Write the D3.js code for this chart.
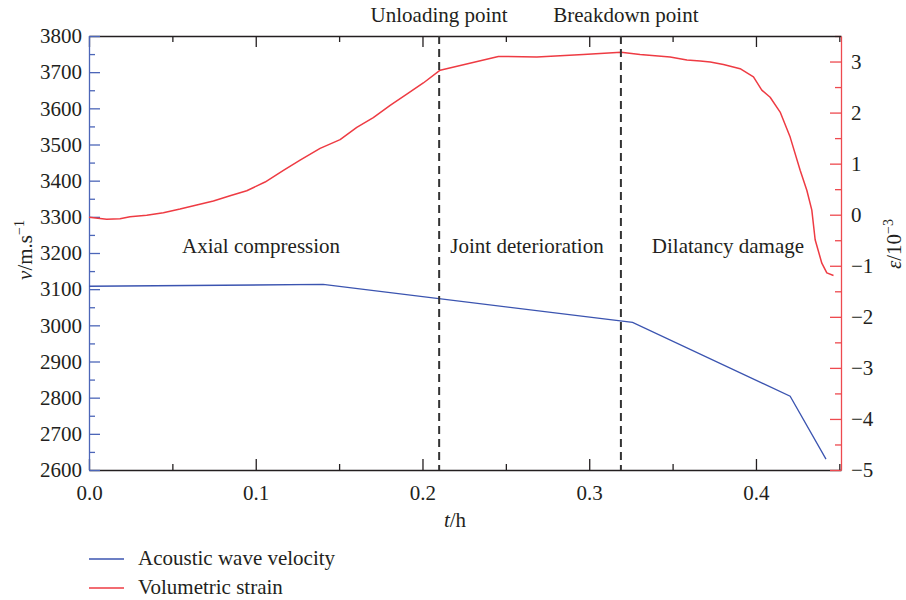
<!DOCTYPE html>
<html>
<head>
<meta charset="utf-8">
<script src="https://cdn.jsdelivr.net/npm/d3@7"></script>
<style>
  body { margin: 0; background: #fff; }
  text { font-family: "Liberation Serif", "DejaVu Serif", serif; fill: #231f20; }
</style>
</head>
<body>
<svg id="chart" width="906" height="600"></svg>
<script>
// Acoustic wave velocity (m/s) against time (h)
const velocityTime = [0, 0.1404, 0.326, 0.4205, 0.442];
const velocity = [3108, 3113, 3008, 2804, 2630];

// Volumetric strain (10^-3) against time (h)
const strainTime = [0, 0.0106, 0.0186, 0.0246, 0.0346, 0.0446, 0.0546, 0.0646, 0.0746, 0.0846,
  0.0946, 0.1056, 0.1166, 0.1266, 0.1386, 0.1506, 0.1606, 0.1705, 0.1806, 0.1906, 0.2005, 0.2106,
  0.2455, 0.2686, 0.2965, 0.3191, 0.3305, 0.3485, 0.3586, 0.3666, 0.3726, 0.3805, 0.3905, 0.3985,
  0.4035, 0.4085, 0.4145, 0.4205, 0.4265, 0.4305, 0.4335, 0.4355, 0.4395, 0.4425, 0.4465];
const strain = [-0.05, -0.09, -0.08, -0.04, -0.01, 0.04, 0.11, 0.19, 0.27, 0.37,
  0.47, 0.64, 0.87, 1.07, 1.30, 1.47, 1.71, 1.90, 2.14, 2.36, 2.58, 2.83,
  3.10, 3.09, 3.14, 3.18, 3.14, 3.09, 3.03, 3.01, 2.99, 2.94, 2.86, 2.70,
  2.44, 2.30, 2.01, 1.52, 0.87, 0.48, 0.09, -0.49, -0.95, -1.14, -1.19];

// Stage boundaries and labels
const markerTimes = [0.21, 0.319];
const markerLabels = ["Unloading point", "Breakdown point"];
const stageLabels = ["Axial compression", "Joint deterioration", "Dilatancy damage"];

// Tick values
const xTicks = [0, 0.1, 0.2, 0.3, 0.4];
const velocityTicks = [2600, 2700, 2800, 2900, 3000, 3100, 3200, 3300, 3400, 3500, 3600, 3700, 3800];
const strainTicks = [-5, -4, -3, -2, -1, 0, 1, 2, 3];

const seriesNames = ["Acoustic wave velocity", "Volumetric strain"];

const BLUE = "#3b54b0";
const RED = "#ee3b43";
const AXIS_BLUE = "#4c66b8";
const AXIS_RED = "#ee4a4f";

const svg = d3.select("#chart");
const pLeft = 89, pRight = 841, pTop = 36, pBottom = 470;
const tMax = 0.451;

const x = d3.scaleLinear().domain([0, tMax]).range([pLeft, pRight]);
const yV = d3.scaleLinear().domain([2600, 3800]).range([pBottom, pTop]);
const yE = d3.scaleLinear().domain([-5, 3.5]).range([pBottom, pTop]);

const FS = 21;
const MAJ = 11, MIN = 6;

function styleAxis(g, color) {
  g.select(".domain").attr("stroke", color).attr("stroke-width", 1.3);
  g.selectAll(".tick line").attr("stroke", color).attr("stroke-width", 1.3);
  g.selectAll(".tick text").style("font-size", FS + "px").attr("fill", "#231f20");
}

// Minor ticks
const xMinor = d3.range(0.05, tMax, 0.1);
svg.append("g").attr("transform", `translate(0,${pBottom})`)
  .call(d3.axisBottom(x).tickValues(xMinor).tickSize(-MIN).tickFormat(""))
  .call(g => { g.select(".domain").remove(); g.selectAll("line").attr("stroke", "#231f20").attr("stroke-width", 1.3); });
svg.append("g").attr("transform", `translate(0,${pTop})`)
  .call(d3.axisTop(x).tickValues(xMinor).tickSize(-MIN).tickFormat(""))
  .call(g => { g.select(".domain").remove(); g.selectAll("line").attr("stroke", "#231f20").attr("stroke-width", 1.3); });
svg.append("g").attr("transform", `translate(${pLeft},0)`)
  .call(d3.axisLeft(yV).tickValues(d3.range(2650, 3800, 100)).tickSize(-MIN).tickFormat(""))
  .call(g => { g.select(".domain").remove(); g.selectAll("line").attr("stroke", AXIS_BLUE).attr("stroke-width", 1.3); });
svg.append("g").attr("transform", `translate(${pRight},0)`)
  .call(d3.axisRight(yE).tickValues(d3.range(-4.5, 3.6, 1)).tickSize(-MIN).tickFormat(""))
  .call(g => { g.select(".domain").remove(); g.selectAll("line").attr("stroke", AXIS_RED).attr("stroke-width", 1.3); });

// Top border with ticks
svg.append("g").attr("transform", `translate(0,${pTop})`)
  .call(d3.axisTop(x).tickValues(xTicks).tickSize(-MAJ).tickSizeOuter(0).tickFormat(""))
  .call(g => styleAxis(g, "#231f20"));

// Bottom axis
svg.append("g").attr("transform", `translate(0,${pBottom})`)
  .call(d3.axisBottom(x).tickValues(xTicks).tickSize(-MAJ).tickSizeOuter(0).tickPadding(15).tickFormat(d3.format(".1f")))
  .call(g => styleAxis(g, "#231f20"));

// Left velocity axis
svg.append("g").attr("transform", `translate(${pLeft},0)`)
  .call(d3.axisLeft(yV).tickValues(velocityTicks).tickSize(-MAJ).tickSizeOuter(0).tickPadding(7).tickFormat(d3.format("d")))
  .call(g => styleAxis(g, AXIS_BLUE));

// Right strain axis
svg.append("g").attr("transform", `translate(${pRight},0)`)
  .call(d3.axisRight(yE).tickValues(strainTicks).tickSize(-MAJ).tickSizeOuter(0).tickPadding(10).tickFormat(d3.format("d")))
  .call(g => styleAxis(g, AXIS_RED));

// Series lines
const velocityData = velocityTime.map((t, i) => [t, velocity[i]]);
const strainData = strainTime.map((t, i) => [t, strain[i]]);

svg.append("path").datum(strainData)
  .attr("fill", "none").attr("stroke", RED).attr("stroke-width", 1.5).attr("stroke-linejoin", "round")
  .attr("d", d3.line().x(d => x(d[0])).y(d => yE(d[1])));

svg.append("path").datum(velocityData)
  .attr("fill", "none").attr("stroke", BLUE).attr("stroke-width", 1.3)
  .attr("d", d3.line().x(d => x(d[0])).y(d => yV(d[1])));

// Stage boundary markers
svg.selectAll("line.marker").data(markerTimes).join("line")
  .attr("class", "marker")
  .attr("x1", d => x(d)).attr("x2", d => x(d))
  .attr("y1", pTop).attr("y2", pBottom)
  .attr("stroke", "#333").attr("stroke-width", 2).attr("stroke-dasharray", "8,5");

svg.selectAll("text.marker").data(markerTimes).join("text")
  .attr("class", "marker")
  .attr("x", (d, i) => x(d) + (i === 0 ? 0 : 5)).attr("y", 22)
  .attr("text-anchor", "middle").style("font-size", FS + "px")
  .text((d, i) => markerLabels[i]);

// Stage labels centred between boundaries
const bounds = [0, ...markerTimes, tMax];
svg.selectAll("text.stage").data(stageLabels).join("text")
  .attr("class", "stage")
  .attr("x", (d, i) => x((bounds[i] + bounds[i + 1]) / 2) - 3)
  .attr("y", 253)
  .attr("text-anchor", "middle").style("font-size", FS + "px")
  .text(d => d);

// Axis titles
const xt = svg.append("text").attr("x", 455).attr("y", 527).attr("text-anchor", "middle").style("font-size", FS + "px");
xt.append("tspan").style("font-style", "italic").text("t");
xt.append("tspan").text("/h");

const yl = svg.append("text").attr("transform", "translate(32,250) rotate(-90)").attr("text-anchor", "middle").style("font-size", FS + "px");
yl.append("tspan").style("font-style", "italic").text("v");
yl.append("tspan").text("/m.s");
yl.append("tspan").attr("dy", -8).style("font-size", "14px").text("−1");

const yr = svg.append("text").attr("transform", "translate(901,244) rotate(-90)").attr("text-anchor", "middle").style("font-size", FS + "px");
yr.append("tspan").style("font-style", "italic").text("ε");
yr.append("tspan").text("/10");
yr.append("tspan").attr("dy", -8).style("font-size", "14px").text("−3");

// Legend
const legend = svg.append("g");
[BLUE, RED].forEach((c, i) => {
  const yy = 559 + i * 29;
  legend.append("line").attr("x1", 89).attr("x2", 124).attr("y1", yy).attr("y2", yy)
    .attr("stroke", c).attr("stroke-width", 1.5);
  legend.append("text").attr("x", 138).attr("y", yy + 6).style("font-size", FS + "px").text(seriesNames[i]);
});
</script>
</body>
</html>
